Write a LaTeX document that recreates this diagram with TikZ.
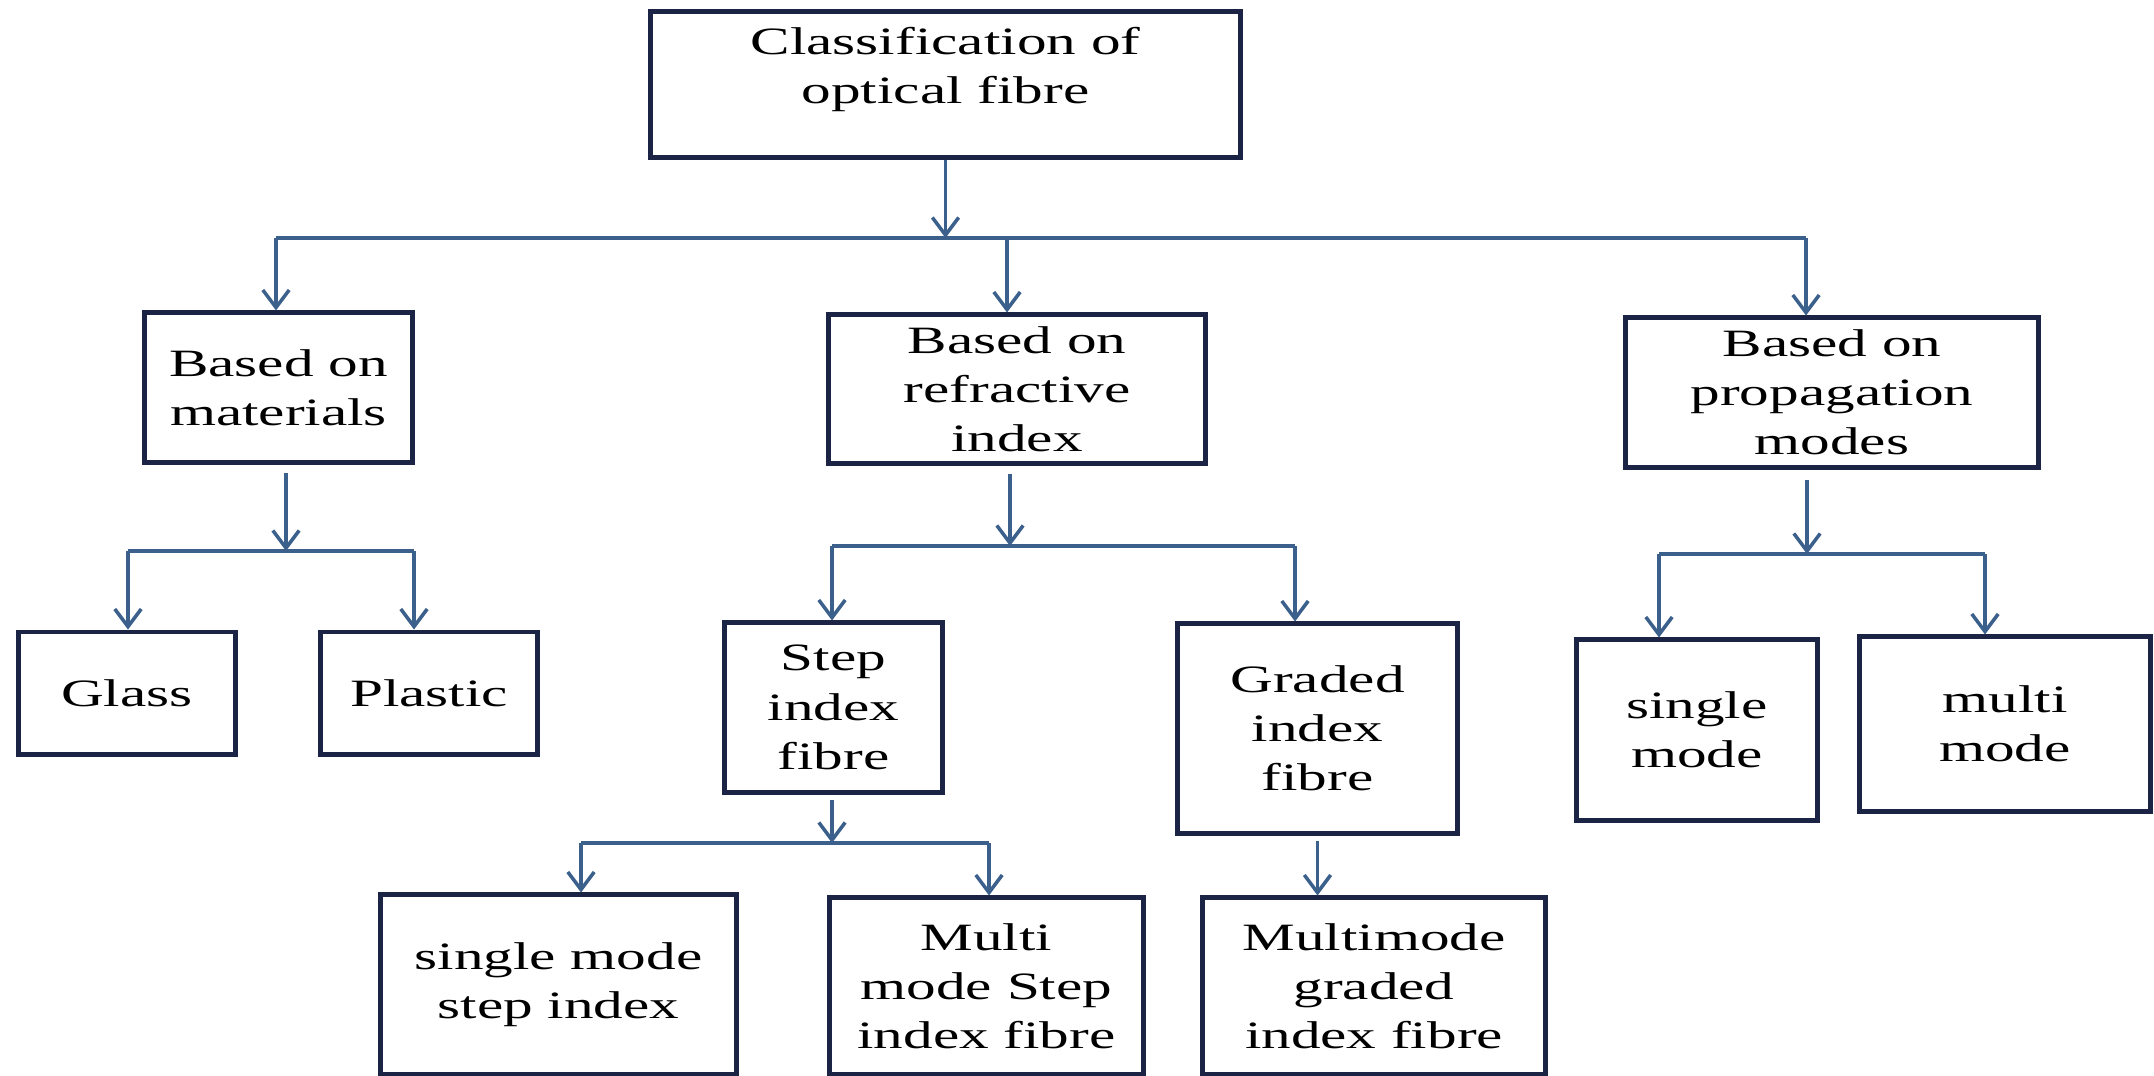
\documentclass[tikz,border=0pt]{standalone}
\usepackage{fontspec}
\setmainfont{Liberation Serif}[FakeStretch=1.53]
\usepackage{tikz}
\usetikzlibrary{
  arrows.meta,
  positioning,
  calc
}
\definecolor{xnavy}{RGB}{27,36,68}
\definecolor{xsteel}{RGB}{60,96,140}

\begin{document}
\begin{tikzpicture}[x=0.01cm, y=-0.01cm,
  cell/.style 2 args={draw=xnavy, line width=1.4pt, minimum width=#1, minimum height=#2,
                inner sep=2pt, align=center, text=black,
                font=\fontsize{11}{14}\selectfont},
  arr/.style={-{Straight Barb[length=5pt, width=7.5pt]}, line width=1pt, color=xsteel},
  bus/.style={line width=1pt, color=xsteel}
]
  \useasboundingbox (0,0) rectangle (2154,1076);

  \node[cell={5.89cm}{1.45cm}] (root) at (945.5,84.5) {Classification of\\optical fibre\\[-3pt]\mbox{}};

  \node[cell={2.67cm}{1.49cm}] (mat)  at (278.5,387.5) {Based on\\materials};
  \node[cell={3.76cm}{1.48cm}] (ref)  at (1017,389)    {Based on\\refractive\\index};
  \node[cell={4.12cm}{1.49cm}] (prop) at (1832,392.5)  {Based on\\propagation\\modes};

  \node[cell={2.16cm}{1.22cm}] (glass)   at (127,693)      {Glass};
  \node[cell={2.16cm}{1.22cm}] (plastic) at (429,693)      {Plastic};
  \node[cell={2.17cm}{1.69cm}] (step)    at (833.5,707.5)  {Step\\index\\fibre};
  \node[cell={2.79cm}{2.09cm}] (graded)  at (1317.5,728.5) {Graded\\index\\fibre};
  \node[cell={2.40cm}{1.80cm}] (single)  at (1697,730)     {single\\mode};
  \node[cell={2.90cm}{1.74cm}] (multi)   at (2005,724)     {multi\\mode};

  \node[cell={3.55cm}{1.79cm}] (sms) at (558.5,984.5) {single mode\\step index};
  \node[cell={3.13cm}{1.76cm}] (mms) at (986.5,986)   {Multi\\mode Step\\index fibre};
  \node[cell={3.42cm}{1.76cm}] (mgi) at (1374,986)    {Multimode\\graded\\index fibre};

  \coordinate (j0) at (945.5,238);
  \coordinate (j1) at (286,551);
  \coordinate (j2) at (1010,546);
  \coordinate (j3) at (1807,554);
  \coordinate (j4) at (832,843);

  \coordinate (d1)  at (276,238);
  \coordinate (d2)  at (1007,238);
  \coordinate (d3)  at (1806,238);
  \coordinate (d4)  at (128,551);
  \coordinate (d5)  at (414,551);
  \coordinate (d6)  at (832,546);
  \coordinate (d7)  at (1295,546);
  \coordinate (d8)  at (1659,554);
  \coordinate (d9)  at (1985,554);
  \coordinate (d10) at (581,843);
  \coordinate (d11) at (989,843);

  \draw[arr] (root) -- (j0);
  \draw[arr, shorten <=2.3pt] (mat.south -| j1)  -- (j1);
  \draw[arr, shorten <=2.3pt] (ref.south -| j2)  -- (j2);
  \draw[arr, shorten <=3pt]   (prop.south -| j3) -- (j3);
  \draw[arr, shorten <=1.5pt] (step.south -| j4) -- (j4);
  \draw[arr, shorten <=1.5pt] (graded) -- (graded |- mgi.north);

  \foreach \a/\b in {d1/d3, d4/d5, d6/d7, d8/d9, d10/d11}{
    \draw[bus] (\a) -- (\b);
  }

  \foreach \d/\n in {d1/mat, d2/ref, d3/prop, d4/glass, d5/plastic, d6/step,
                     d7/graded, d8/single, d9/multi, d10/sms, d11/mms}{
    \draw[arr] (\d) -- (\d |- \n.north);
  }
\end{tikzpicture}
\end{document}
